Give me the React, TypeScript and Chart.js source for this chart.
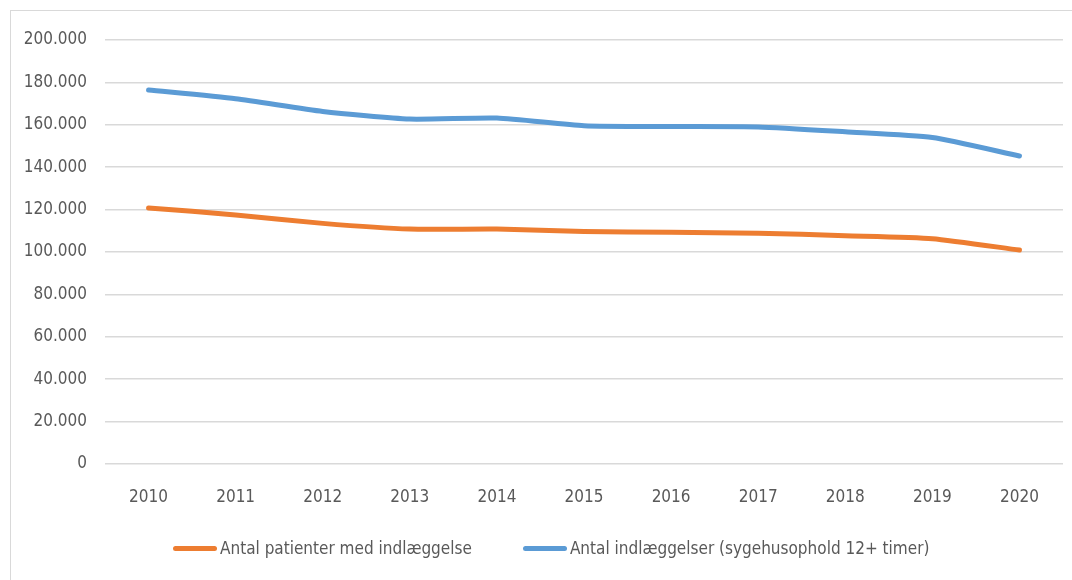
import React, { useEffect, useRef } from "react";
import { Chart, registerables } from "chart.js";

Chart.register(...registerables);

const years = ["2010", "2011", "2012", "2013", "2014", "2015", "2016", "2017", "2018", "2019", "2020"];
const patients = [120800, 117500, 113500, 110800, 110800, 109700, 109300, 108900, 107700, 106300, 100900];
const admissions = [176400, 172300, 166300, 162700, 163200, 159600, 159200, 159000, 156700, 154000, 145300];
const seriesNames = ["Antal patienter med indlæggelse", "Antal indlæggelser (sygehusophold 12+ timer)"];
const seriesColors = ["#ED7D31", "#5B9BD5"];

const FONT = '"Liberation Sans Narrow", "DejaVu Sans Condensed", "Liberation Sans", sans-serif';
const TEXT = "#595959";
const GRID = "#d9d9d9";

function fmt(v: number): string {
  return String(Math.round(v)).replace(/\B(?=(\d{3})+(?!\d))/g, ".");
}

export default function App() {
  const ref = useRef<HTMLCanvasElement | null>(null);

  useEffect(() => {
    if (!ref.current) return;
    const chart = new Chart(ref.current, {
      type: "line",
      data: {
        labels: years,
        datasets: [
          {
            label: seriesNames[0],
            data: patients,
            borderColor: seriesColors[0],
            backgroundColor: seriesColors[0],
            borderWidth: 5,
            pointRadius: 0,
            tension: 0.2,
            borderCapStyle: "round",
            borderJoinStyle: "round",
          },
          {
            label: seriesNames[1],
            data: admissions,
            borderColor: seriesColors[1],
            backgroundColor: seriesColors[1],
            borderWidth: 5,
            pointRadius: 0,
            tension: 0.2,
            borderCapStyle: "round",
            borderJoinStyle: "round",
          },
        ],
      },
      options: {
        animation: false,
        responsive: false,
        maintainAspectRatio: false,
        layout: { padding: { left: 0, right: 9, top: 40, bottom: 0 } },
        plugins: {
          legend: { display: false },
          tooltip: { enabled: false },
        },
        scales: {
          x: {
            offset: true,
            grid: { display: false, drawTicks: false },
            border: { display: false },
            ticks: { color: TEXT, font: { family: FONT, size: 17 }, padding: 23, maxRotation: 0 },
            afterFit: (s: any) => {
              s.height = 116;
            },
          },
          y: {
            min: 0,
            max: 200000,
            grid: { color: GRID, lineWidth: 1.6, drawTicks: false },
            border: { display: false },
            ticks: {
              stepSize: 20000,
              color: TEXT,
              font: { family: FONT, size: 17 },
              padding: 18,
              callback: (v: any) => fmt(Number(v)),
            },
            afterFit: (s: any) => {
              s.width = 105;
            },
          },
        },
      },
    });
    return () => chart.destroy();
  }, []);

  return (
    <div style={{ position: "fixed", left: 0, top: 0, width: 1072, height: 580, background: "#fff", overflow: "hidden" }}>
      <div
        style={{
          position: "absolute",
          left: 10,
          top: 10,
          width: 1100,
          height: 600,
          borderLeft: `1.5px solid ${GRID}`,
          borderTop: `1.5px solid ${GRID}`,
        }}
      />
      <canvas ref={ref} width={1072} height={580} style={{ position: "absolute", left: 0, top: 0 }} />
      <div
        style={{
          position: "absolute",
          left: 173,
          top: 536,
          height: 24,
          display: "flex",
          alignItems: "center",
          fontFamily: FONT,
          fontSize: 17,
          color: TEXT,
          whiteSpace: "nowrap",
        }}
      >
        {seriesNames.map((name, i) => (
          <div key={name} style={{ display: "flex", alignItems: "center", marginRight: i === 0 ? 51 : 0 }}>
            <span
              style={{
                display: "inline-block",
                width: 44,
                height: 5,
                borderRadius: 3,
                background: seriesColors[i],
                marginRight: 3,
              }}
            />
            <span>{name}</span>
          </div>
        ))}
      </div>
    </div>
  );
}
